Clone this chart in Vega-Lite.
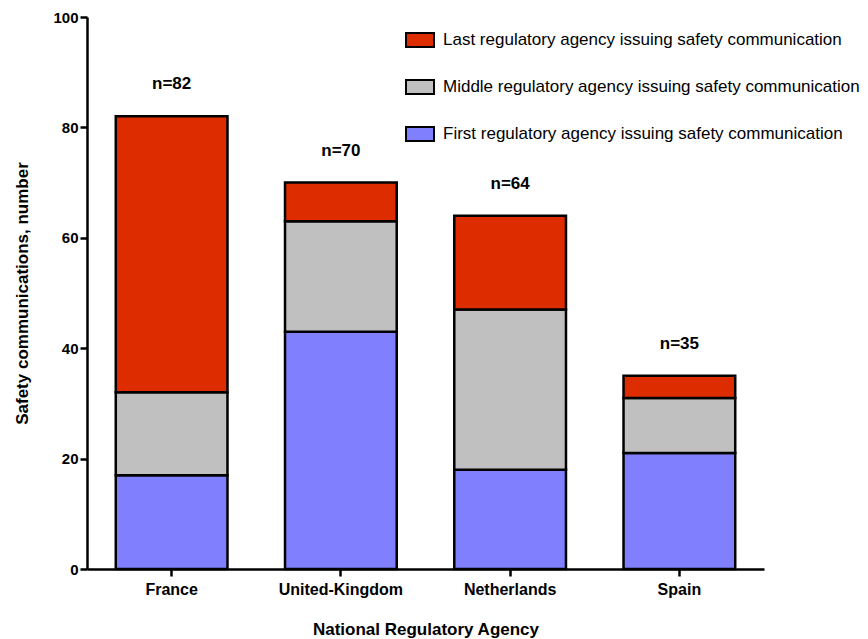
{
  "$schema": "https://vega.github.io/schema/vega-lite/v6.json",
  "width": 677,
  "height": 552,
  "autosize": {"type": "none"},
  "padding": {"left": 87, "top": 17, "right": 104, "bottom": 70},
  "background": "white",
  "config": {
    "view": {"stroke": null},
    "font": "Liberation Sans",
    "axis": {
      "domainColor": "black",
      "domainWidth": 2.5,
      "tickColor": "black",
      "tickWidth": 2.5,
      "tickSize": 7,
      "labelColor": "black",
      "labelFont": "Liberation Sans",
      "labelFontWeight": "bold",
      "labelFontSize": 16,
      "titleFont": "Liberation Sans",
      "titleFontWeight": "bold",
      "titleFontSize": 17,
      "titleColor": "black",
      "grid": false
    }
  },
  "datasets": {
    "segments": [
      {"country": "France", "position": "First regulatory agency issuing safety communication", "rank": 1, "count": 17},
      {"country": "France", "position": "Middle regulatory agency issuing safety communication", "rank": 2, "count": 15},
      {"country": "France", "position": "Last regulatory agency issuing safety communication", "rank": 3, "count": 50},
      {"country": "United-Kingdom", "position": "First regulatory agency issuing safety communication", "rank": 1, "count": 43},
      {"country": "United-Kingdom", "position": "Middle regulatory agency issuing safety communication", "rank": 2, "count": 20},
      {"country": "United-Kingdom", "position": "Last regulatory agency issuing safety communication", "rank": 3, "count": 7},
      {"country": "Netherlands", "position": "First regulatory agency issuing safety communication", "rank": 1, "count": 18},
      {"country": "Netherlands", "position": "Middle regulatory agency issuing safety communication", "rank": 2, "count": 29},
      {"country": "Netherlands", "position": "Last regulatory agency issuing safety communication", "rank": 3, "count": 17},
      {"country": "Spain", "position": "First regulatory agency issuing safety communication", "rank": 1, "count": 21},
      {"country": "Spain", "position": "Middle regulatory agency issuing safety communication", "rank": 2, "count": 10},
      {"country": "Spain", "position": "Last regulatory agency issuing safety communication", "rank": 3, "count": 4}
    ],
    "totals": [
      {"country": "France", "total": 82, "label": "n=82"},
      {"country": "United-Kingdom", "total": 70, "label": "n=70"},
      {"country": "Netherlands", "total": 64, "label": "n=64"},
      {"country": "Spain", "total": 35, "label": "n=35"}
    ]
  },
  "encoding": {
    "x": {
      "field": "country",
      "type": "nominal",
      "sort": ["France", "United-Kingdom", "Netherlands", "Spain"],
      "scale": {"paddingInner": 0.34, "paddingOuter": 0.17},
      "axis": {"title": "National Regulatory Agency", "labelAngle": 0, "labelPadding": 5, "titlePadding": 24}
    }
  },
  "layer": [
    {
      "data": {"name": "segments"},
      "mark": {"type": "bar", "stroke": "black", "strokeWidth": 2.5},
      "encoding": {
        "y": {
          "field": "count",
          "type": "quantitative",
          "stack": "zero",
          "scale": {"domain": [0, 100], "nice": false},
          "axis": {"title": "Safety communications, number", "values": [0, 20, 40, 60, 80, 100], "labelPadding": 2, "titlePadding": 21, "labelFontSize": 15}
        },
        "order": {"field": "rank", "type": "quantitative", "sort": "ascending"},
        "color": {
          "field": "position",
          "type": "nominal",
          "scale": {
            "domain": ["Last regulatory agency issuing safety communication", "Middle regulatory agency issuing safety communication", "First regulatory agency issuing safety communication"],
            "range": ["#dd2c00", "#c0c0c0", "#8080ff"]
          },
          "legend": {
            "title": null,
            "orient": "none",
            "legendX": 318,
            "legendY": 8,
            "padding": 0,
            "symbolType": "M-1,-0.5H1V0.5H-1Z",
            "symbolSize": 784,
            "symbolStrokeColor": "black",
            "symbolStrokeWidth": 2,
            "symbolOpacity": 1,
            "labelFont": "Liberation Sans",
            "labelFontSize": 17,
            "labelColor": "black",
            "labelOffset": 8,
            "labelLimit": 500,
            "rowPadding": 21
          }
        }
      }
    },
    {
      "data": {"name": "totals"},
      "mark": {"type": "text", "fontWeight": "bold", "fontSize": 17, "font": "Liberation Sans", "baseline": "middle", "dy": -32, "color": "black"},
      "encoding": {
        "y": {"field": "total", "type": "quantitative"},
        "text": {"field": "label", "type": "nominal"}
      }
    }
  ]
}
